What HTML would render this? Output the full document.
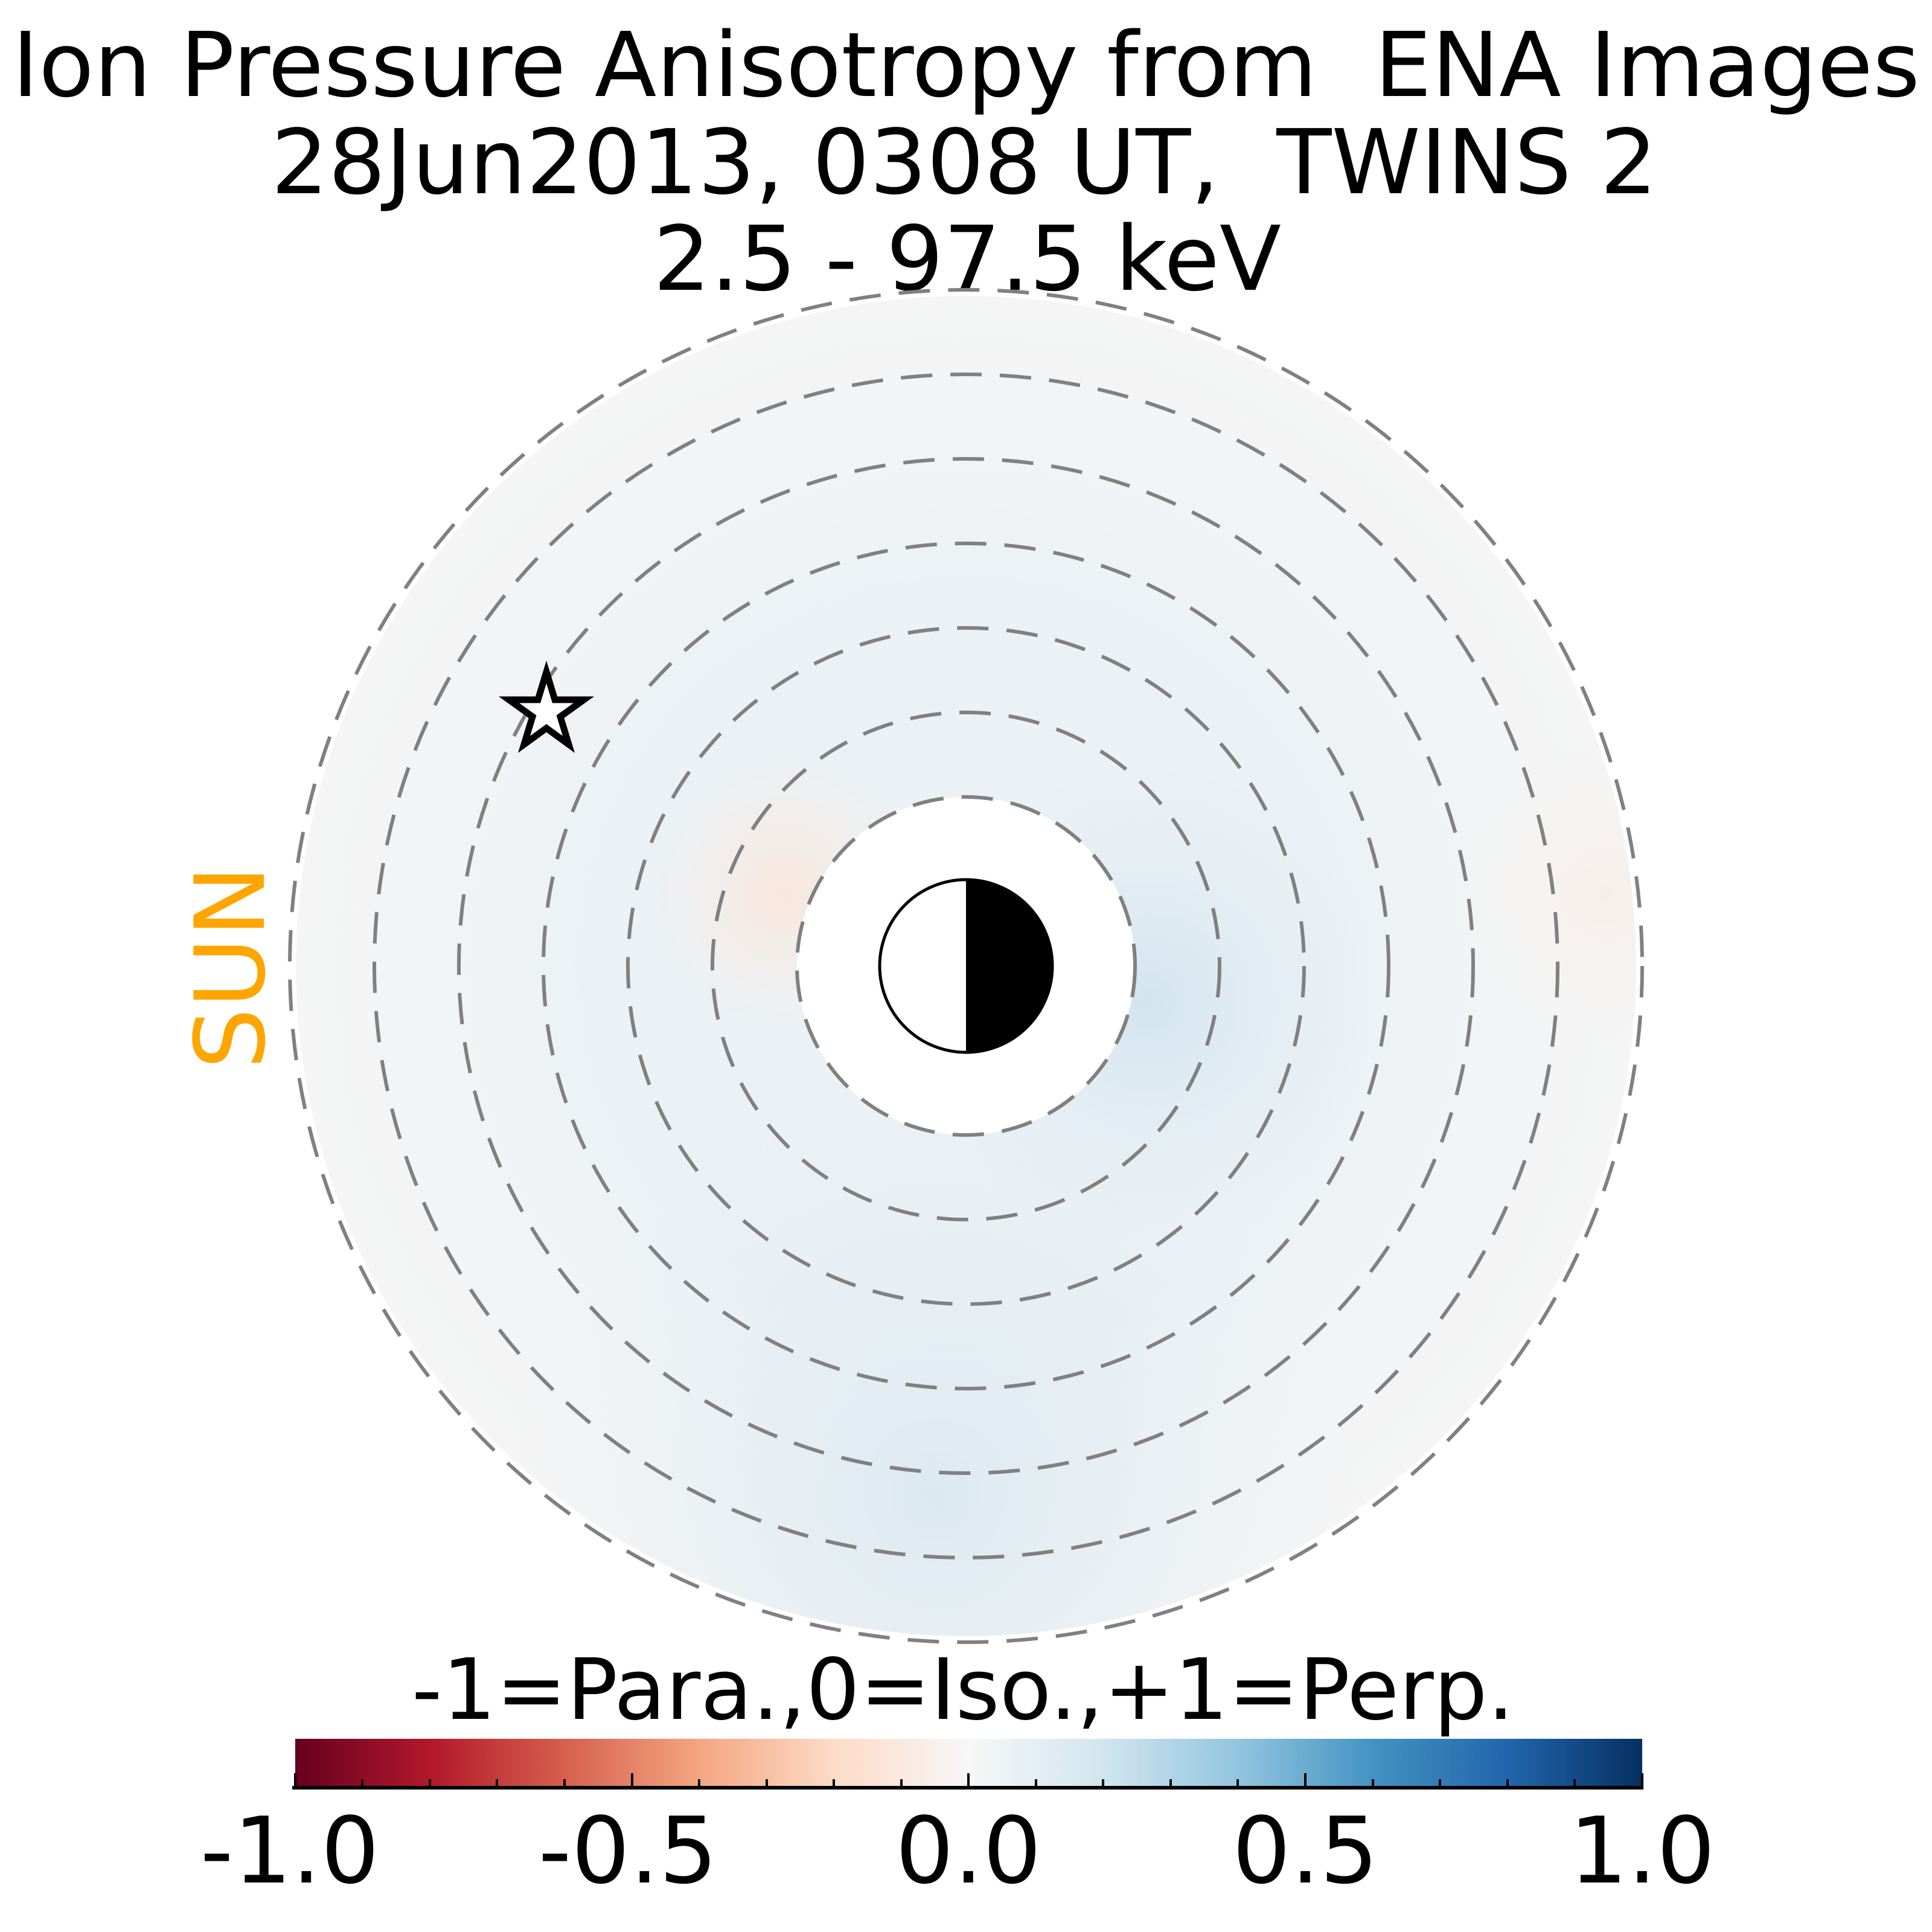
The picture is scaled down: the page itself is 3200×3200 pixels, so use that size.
<!DOCTYPE html>
<html><head><meta charset="utf-8"><style>
html,body{margin:0;padding:0;background:#fff;}
svg{display:block;}
text{font-family:"DejaVu Sans","Liberation Sans",sans-serif;white-space:pre;}
</style></head><body>
<svg width="3200" height="3200" viewBox="0 0 3200 3200" xmlns="http://www.w3.org/2000/svg" xml:space="preserve">
<defs>
<radialGradient id="b1" cx="1900" cy="1660" r="400" gradientUnits="userSpaceOnUse">
<stop offset="0" stop-color="#d2e4ef" stop-opacity="1"/><stop offset="1" stop-color="#e3edf3" stop-opacity="0"/></radialGradient>
<radialGradient id="b2" cx="1550" cy="2480" r="700" gradientUnits="userSpaceOnUse">
<stop offset="0" stop-color="#dce9f1" stop-opacity="1"/><stop offset="1" stop-color="#e8eff4" stop-opacity="0"/></radialGradient>
<radialGradient id="r1" cx="1300" cy="1480" r="240" gradientUnits="userSpaceOnUse">
<stop offset="0" stop-color="#f9e6dc" stop-opacity="1"/><stop offset="1" stop-color="#f7efe9" stop-opacity="0"/></radialGradient>
<radialGradient id="r2" cx="2660" cy="1480" r="250" gradientUnits="userSpaceOnUse">
<stop offset="0" stop-color="#f7eeea" stop-opacity="1"/><stop offset="1" stop-color="#f6f3f1" stop-opacity="0"/></radialGradient>
<radialGradient id="ring" cx="1600" cy="1600" r="1110" gradientUnits="userSpaceOnUse">
<stop offset="0.25" stop-color="#ebf1f5"/><stop offset="0.55" stop-color="#ebf1f5"/><stop offset="0.8" stop-color="#f2f4f5"/><stop offset="1" stop-color="#f5f5f5"/></radialGradient>
<linearGradient id="cb" x1="0" x2="1" y1="0" y2="0">
<stop offset="0" stop-color="#67001f"/><stop offset="0.1" stop-color="#b2182b"/><stop offset="0.2" stop-color="#d6604d"/><stop offset="0.3" stop-color="#f4a582"/><stop offset="0.4" stop-color="#fddbc7"/><stop offset="0.5" stop-color="#f7f7f7"/><stop offset="0.6" stop-color="#d1e5f0"/><stop offset="0.7" stop-color="#92c5de"/><stop offset="0.8" stop-color="#4393c3"/><stop offset="0.9" stop-color="#2166ac"/><stop offset="1" stop-color="#053061"/></linearGradient>
</defs>
<text x="20" y="159" font-size="148" textLength="3160" lengthAdjust="spacingAndGlyphs">Ion Pressure Anisotropy from  ENA Images</text>
<text x="449" y="320" font-size="148" textLength="2296" lengthAdjust="spacingAndGlyphs">28Jun2013, 0308 UT,  TWINS 2</text>
<text x="1082" y="480" font-size="148" textLength="1040" lengthAdjust="spacingAndGlyphs">2.5 - 97.5 keV</text>
<circle cx="1600" cy="1600" r="1110" fill="url(#ring)"/>
<circle cx="1600" cy="1600" r="1110" fill="url(#b2)"/>
<circle cx="1600" cy="1600" r="1110" fill="url(#b1)"/>
<circle cx="1600" cy="1600" r="1110" fill="url(#r1)"/>
<circle cx="1600" cy="1600" r="1110" fill="url(#r2)"/>
<circle cx="1600" cy="1600" r="280" fill="#fff"/>
<g fill="none" stroke="#808080" stroke-width="6" stroke-dasharray="52 30">
<circle cx="1600" cy="1600" r="280"/><circle cx="1600" cy="1600" r="420"/><circle cx="1600" cy="1600" r="560"/>
<circle cx="1600" cy="1600" r="700"/><circle cx="1600" cy="1600" r="840"/><circle cx="1600" cy="1600" r="980"/>
<circle cx="1600" cy="1600" r="1120"/></g>
<path d="M1600 1455 A145 145 0 0 1 1600 1745 Z" fill="#000"/>
<circle cx="1600" cy="1600" r="143" fill="none" stroke="#000" stroke-width="5"/>
<polygon points="905,1113 919,1159 967,1159 928,1187 942,1233 905,1206 868,1233 882,1187 843,1159 891,1159" fill="#fff" stroke="#000" stroke-width="11" stroke-linejoin="miter"/>
<text x="0" y="0" font-size="160" fill="#ffa500" text-anchor="middle" transform="translate(437,1602) rotate(-90)">SUN</text>
<text x="1595" y="2847" font-size="140" text-anchor="middle">-1=Para.,0=Iso.,+1=Perp.</text>
<rect x="489" y="2880" width="2231" height="80" fill="url(#cb)"/>
<line x1="484" y1="2961" x2="2722" y2="2961" stroke="#000" stroke-width="6"/>
<g stroke="#000" stroke-width="4">
<line x1="489" y1="2937" x2="489" y2="2961"/><line x1="1047" y1="2937" x2="1047" y2="2961"/><line x1="1604" y1="2937" x2="1604" y2="2961"/><line x1="2162" y1="2937" x2="2162" y2="2961"/><line x1="2720" y1="2937" x2="2720" y2="2961"/>
<line x1="600" y1="2947" x2="600" y2="2961"/><line x1="712" y1="2947" x2="712" y2="2961"/><line x1="823" y1="2947" x2="823" y2="2961"/><line x1="935" y1="2947" x2="935" y2="2961"/>
<line x1="1158" y1="2947" x2="1158" y2="2961"/><line x1="1270" y1="2947" x2="1270" y2="2961"/><line x1="1381" y1="2947" x2="1381" y2="2961"/><line x1="1493" y1="2947" x2="1493" y2="2961"/>
<line x1="1716" y1="2947" x2="1716" y2="2961"/><line x1="1827" y1="2947" x2="1827" y2="2961"/><line x1="1939" y1="2947" x2="1939" y2="2961"/><line x1="2050" y1="2947" x2="2050" y2="2961"/>
<line x1="2274" y1="2947" x2="2274" y2="2961"/><line x1="2385" y1="2947" x2="2385" y2="2961"/><line x1="2497" y1="2947" x2="2497" y2="2961"/><line x1="2608" y1="2947" x2="2608" y2="2961"/>
</g>
<g font-size="152" text-anchor="middle">
<text x="480" y="3118">-1.0</text><text x="1040" y="3118">-0.5</text><text x="1604" y="3118">0.0</text><text x="2162" y="3118">0.5</text><text x="2720" y="3118">1.0</text>
</g>
</svg>
</body></html>
